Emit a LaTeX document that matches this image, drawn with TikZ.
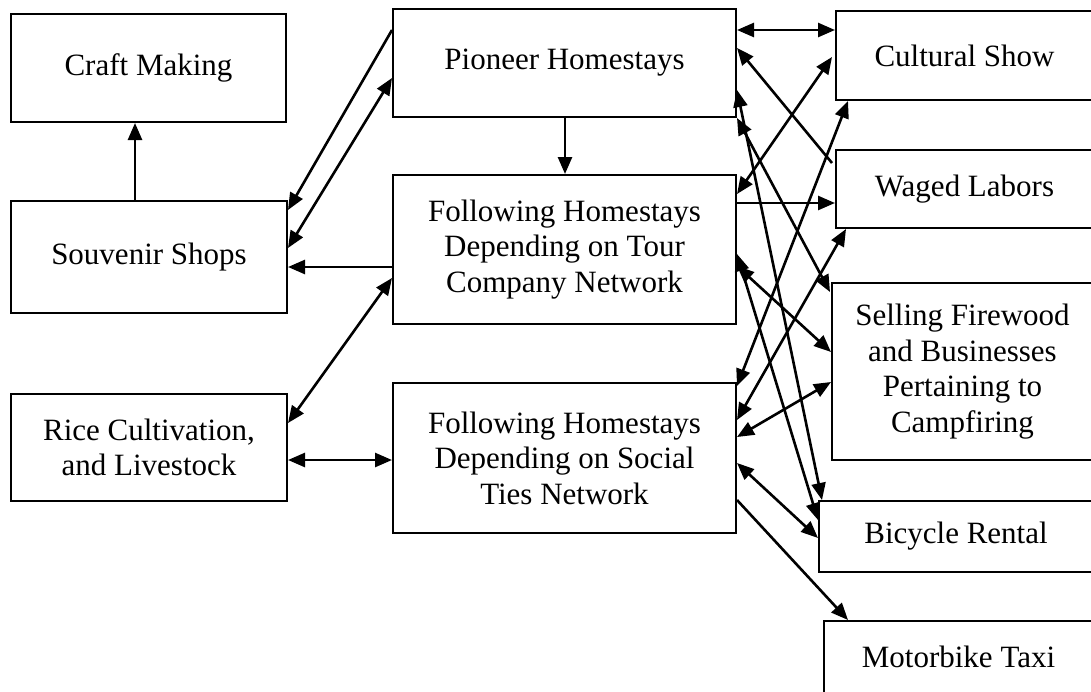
\documentclass[tikz,border=0pt]{standalone}
\usepackage{fontspec}
\setmainfont{Liberation Serif}
\usetikzlibrary{arrows.meta,calc}
\begin{document}
\begin{tikzpicture}[x=1pt,y=-1pt,
  box/.style={draw,line width=2pt,inner sep=0pt,align=center,anchor=north west,
    font=\fontsize{31}{35.5}\selectfont},
  tip/.style={Triangle[length=17pt,width=14pt]},
  con/.style={line width=2.6pt,-{Triangle[length=17pt,width=14pt]}},
  dcon/.style={line width=2.6pt,{Triangle[length=17pt,width=14pt]}-{Triangle[length=17pt,width=14pt]}}]
\fill[white] (0,0) rectangle (1091,691);
\useasboundingbox (0,0) rectangle (1091,691);
% left column
\node[box,minimum width=275pt,minimum height=108pt] (craft) at (10,13) {Craft Making};
\node[box,minimum width=276pt,minimum height=112pt] (souv) at (10,200) {Souvenir Shops};
\node[box,minimum width=276pt,minimum height=107pt] (rice) at (10,393) {Rice Cultivation,\\ and Livestock};
% middle column
\node[box,minimum width=343pt,minimum height=108pt] (pio) at (392,8) {Pioneer Homestays};
\node[box,minimum width=343pt,minimum height=149pt] (tour) at (392,174) {Following Homestays\\ Depending on Tour\\ Company Network};
\node[box,minimum width=343pt,minimum height=150pt] (soc) at (392,382) {Following Homestays\\ Depending on Social\\ Ties Network};
% right column
\node[box,minimum width=257pt,minimum height=89pt] (cult) at (835,10) {Cultural Show};
\node[box,minimum width=257pt,minimum height=78pt] (waged) at (835,149) {Waged Labors};
\node[box,minimum width=261pt,minimum height=177pt] (sell) at (831,282) {Selling Firewood\\ and Businesses\\ Pertaining to\\ Campfiring};
\node[box,minimum width=274pt,minimum height=71pt] (bike) at (818,500) {Bicycle Rental};
\node[box,minimum width=269pt,minimum height=72pt] (moto) at (823,620) {Motorbike Taxi};
% left connectors
\draw[con] ($(souv.north west)+(125,0)$) -- ($(craft.south west)+(125,0)$);
\draw[con] ($(pio.south west)+(173,0)$) -- ($(tour.north west)+(173,0)$);
\draw[con] ($(pio.north west)+(0,22)$) -- ($(souv.north east)+(0,10)$);
\draw[dcon] ($(souv.north east)+(0,48)$) -- ($(pio.north west)+(0,70)$);
\draw[con] ($(tour.north west)+(0,93)$) -- ($(souv.north east)+(0,67)$);
\draw[dcon] ($(rice.north east)+(0,30)$) -- ($(tour.north west)+(0,104)$);
\draw[dcon] ($(rice.north east)+(0,67)$) -- ($(soc.north west)+(0,78)$);
% right connectors
\draw[dcon] ($(pio.north east)+(0,22)$) -- ($(cult.north west)+(0,20)$);
\draw[con] ($(waged.north west)+(-3,14)$) -- ($(pio.north east)+(0,40)$);
\draw[dcon] ($(pio.north east)+(0,82)$) -- ($(bike.north west)+(4,0)$);
\draw[dcon] (pio.south east) -- ($(sell.north west)+(-1,10)$);
\draw[dcon] ($(tour.north east)+(0,20)$) -- ($(cult.north west)+(-3,47)$);
\draw[con] ($(tour.north east)+(0,29)$) -- ($(waged.north west)+(0,54)$);
\draw[dcon] ($(tour.north east)+(0,80)$) -- ($(bike.north west)+(0,20)$);
\draw[dcon] ($(tour.north east)+(0,92)$) -- ($(sell.north west)+(0,70)$);
\draw[dcon] ($(soc.north east)+(0,4)$) -- ($(cult.south west)+(13,0)$);
\draw[dcon] ($(soc.north east)+(0,38)$) -- ($(waged.south west)+(11,0)$);
\draw[dcon] ($(soc.north east)+(0,55)$) -- ($(sell.north west)+(0,100)$);
\draw[dcon] ($(soc.north east)+(0,81)$) -- ($(bike.north west)+(0,38)$);
\draw[con] ($(soc.north east)+(0,118)$) -- ($(moto.north west)+(25,0)$);
\end{tikzpicture}
\end{document}
